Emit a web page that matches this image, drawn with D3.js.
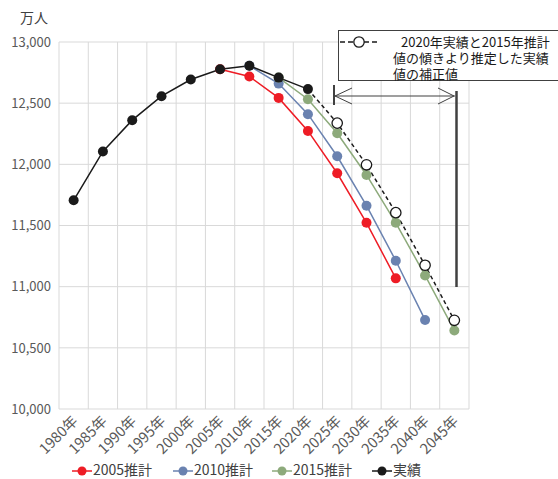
<!DOCTYPE html>
<html><head><meta charset="utf-8">
<script src="https://cdn.jsdelivr.net/npm/d3@7"></script>
<style>
body{margin:0;background:#fff;}
text{font-family:"Noto Sans CJK JP","Noto Sans",sans-serif;}
</style></head>
<body><svg id="chart" width="558" height="479"></svg>
<script>
// Population (万人) by year: actual figures and three projection vintages
const years = ["1980年","1985年","1990年","1995年","2000年","2005年","2010年","2015年","2020年","2025年","2030年","2035年","2040年","2045年"];
const actual     = [11706,12105,12361,12557,12693,12777,12806,12709,12615,null,null,null,null,null];
const proj2005   = [null,null,null,null,null,12777,12718,12543,12273,11927,11522,11068,null,null];
const proj2010   = [null,null,null,null,null,null,12806,12660,12410,12066,11662,11212,10728,null];
const proj2015   = [null,null,null,null,null,null,null,12709,12532,12254,11913,11522,11092,10642];
const corrected  = [null,null,null,null,null,null,null,null,12615,12337,11996,11605,11175,10725];
const yTicks = [10000,10500,11000,11500,12000,12500,13000];

const svg = d3.select("#chart");
const plotL = 59, plotR = 469, plotT = 42, plotB = 409;

const x = d3.scaleBand().domain(years).range([plotL, plotR]).padding(0);
const y = d3.scaleLinear().domain([10000, 13000]).range([plotB, plotT]);
const cx = d => x(d) + x.bandwidth() / 2;

// grid
const grid = svg.append("g").attr("stroke", "#d9d9d9").attr("stroke-width", 1);
yTicks.forEach(t => grid.append("line").attr("x1", plotL).attr("x2", plotR).attr("y1", y(t)).attr("y2", y(t)));
years.concat([null]).forEach((yr, i) => {
  const xx = plotL + i * x.bandwidth();
  grid.append("line").attr("x1", xx).attr("x2", xx).attr("y1", plotT).attr("y2", plotB);
});

// y axis labels
const yAxis = svg.append("g").attr("transform", `translate(${plotL},0)`)
  .call(d3.axisLeft(y).tickValues(yTicks).tickSize(0).tickPadding(8).tickFormat(d3.format(",")));
yAxis.select(".domain").remove();
yAxis.selectAll("text").attr("font-size", 13).attr("fill", "#595959").attr("font-family", '"Noto Sans CJK JP",sans-serif');

svg.append("text").attr("x", 20).attr("y", 23).attr("font-size", 14).attr("fill", "#404040").text("万人");

// x axis labels, rotated
const xAxis = svg.append("g").attr("transform", `translate(0,${plotB})`)
  .call(d3.axisBottom(x).tickSize(0).tickPadding(0));
xAxis.select(".domain").remove();
xAxis.selectAll("text")
  .attr("font-size", 14.5).attr("fill", "#595959").attr("font-family", '"Noto Sans CJK JP",sans-serif')
  .attr("text-anchor", "end").attr("dy", null).attr("y", 0)
  .attr("transform", "translate(5,13) rotate(-45)");

// series
const series = [
  {name: "2005推計", values: proj2005, color: "#ee1c25"},
  {name: "2010推計", values: proj2010, color: "#6a82b0"},
  {name: "2015推計", values: proj2015, color: "#8daa7b"},
  {name: "実績",     values: actual,   color: "#1a1a1a"}
];
const line = d3.line().defined(d => d.v != null).x(d => cx(d.c)).y(d => y(d.v));
const pts = vals => years.map((c, i) => ({c, v: vals[i]}));

// corrected estimate (dashed, open markers)
svg.append("path").datum(pts(corrected)).attr("d", line)
  .attr("fill", "none").attr("stroke", "#1a1a1a").attr("stroke-width", 1.5).attr("stroke-dasharray", "4,3");

series.forEach(s => {
  svg.append("path").datum(pts(s.values)).attr("d", line)
    .attr("fill", "none").attr("stroke", s.color).attr("stroke-width", 1.5);
});
series.forEach(s => {
  svg.append("g").selectAll("circle").data(pts(s.values).filter(d => d.v != null)).join("circle")
    .attr("cx", d => cx(d.c)).attr("cy", d => y(d.v)).attr("r", 5).attr("fill", s.color);
});
svg.append("g").selectAll("circle").data(pts(corrected).filter((d, i) => d.v != null && i > 8)).join("circle")
  .attr("cx", d => cx(d.c)).attr("cy", d => y(d.v)).attr("r", 5.2)
  .attr("fill", "#fff").attr("stroke", "#1a1a1a").attr("stroke-width", 1.3);

// annotation box
const ann = svg.append("g");
ann.append("rect").attr("x", 338.5).attr("y", 30.5).attr("width", 230).attr("height", 50)
  .attr("fill", "#fff").attr("stroke", "#404040").attr("stroke-width", 1);
ann.append("line").attr("x1", 340).attr("x2", 380).attr("y1", 42).attr("y2", 42)
  .attr("stroke", "#1a1a1a").attr("stroke-width", 1.3).attr("stroke-dasharray", "5,3");
ann.append("circle").attr("cx", 359).attr("cy", 42).attr("r", 5.2)
  .attr("fill", "#fff").attr("stroke", "#1a1a1a").attr("stroke-width", 1.3);
const note = ann.append("text").attr("font-size", 13).attr("fill", "#1a1a1a");
[["2020年実績と2015年推計", 401, 47], ["値の傾きより推定した実績", 393, 63], ["値の補正値", 393, 79]]
  .forEach(([t, tx, ty]) => note.append("tspan").attr("x", tx).attr("y", ty).text(t));

// range arrow for projection period
const ar = svg.append("g").attr("stroke", "#404040").attr("fill", "none");
const aL = 334, aR = 455, aY = 96;
ar.append("line").attr("x1", aL).attr("x2", aR).attr("y1", aY).attr("y2", aY).attr("stroke-width", 1.2);
ar.append("line").attr("x1", aL).attr("x2", aL).attr("y1", 85).attr("y2", 105).attr("stroke-width", 2);
ar.append("polyline").attr("points", `${aL+18},${aY-8} ${aL+1},${aY} ${aL+18},${aY+8}`).attr("stroke-width", 1);
ar.append("polyline").attr("points", `${aR-17},${aY-8} ${aR-1},${aY} ${aR-17},${aY+8}`).attr("stroke-width", 1);
ar.append("line").attr("x1", 456.5).attr("x2", 456.5).attr("y1", 91).attr("y2", 287).attr("stroke-width", 2.5);

// legend
const lg = svg.append("g");
const lx = [72, 173, 272, 372];
series.forEach((s, i) => {
  const g = lg.append("g").attr("transform", `translate(${lx[i]},471)`);
  g.append("line").attr("x1", 0).attr("x2", 20).attr("stroke", s.color).attr("stroke-width", 1.5);
  g.append("circle").attr("cx", 10).attr("r", 4.5).attr("fill", s.color);
  g.append("text").attr("x", 21).attr("y", 4).attr("font-size", 14).attr("fill", "#404040").text(s.name);
});
</script></body></html>
